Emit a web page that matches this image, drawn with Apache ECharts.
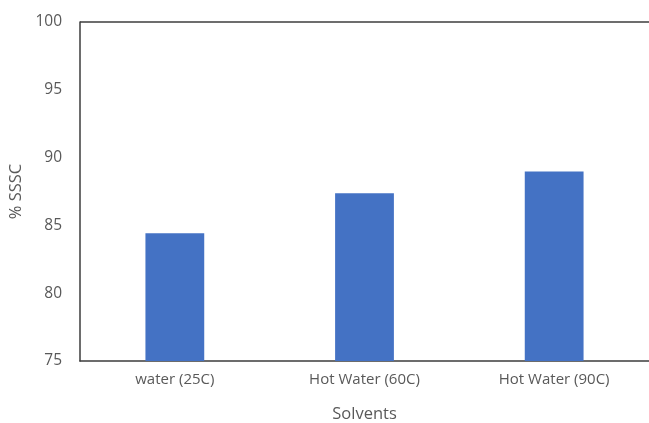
<!DOCTYPE html>
<html>
<head>
<meta charset="utf-8">
<style>
  html, body { margin: 0; padding: 0; background: #fff; overflow: hidden; }
  #chart { width: 649px; height: 423px; }
</style>
<script src="https://cdn.jsdelivr.net/npm/echarts@6/dist/echarts.min.js"></script>
</head>
<body>
<div id="chart"></div>
<script>
// Solvent extraction results (% SSSC)
const categories = ['water (25C)', 'Hot Water (60C)', 'Hot Water (90C)'];
const sssc = [84.42, 87.37, 88.98];
const yTicks = [75, 80, 85, 90, 95, 100];

const GRID = { left: 80, right: 0, top: 22, bottom: 62 };
const AXIS_COLOR = '#3d3d3d';
const TEXT_COLOR = '#595959';
const FONT = '"Open Sans", "Noto Sans", sans-serif';

const chart = echarts.init(document.getElementById('chart'), null, { renderer: 'canvas' });

chart.setOption({
  animation: false,
  backgroundColor: '#ffffff',
  grid: Object.assign({ outerBoundsMode: 'none', containLabel: false }, GRID),
  xAxis: {
    type: 'category',
    data: categories,
    name: 'Solvents',
    nameLocation: 'middle',
    nameGap: 45,
    nameTextStyle: { color: TEXT_COLOR, fontFamily: FONT, fontSize: 16.5 },
    axisLine: { show: true, lineStyle: { color: AXIS_COLOR, width: 1.5 } },
    axisTick: { show: false },
    axisLabel: { color: TEXT_COLOR, fontFamily: FONT, fontSize: 15, margin: 11 }
  },
  yAxis: {
    type: 'value',
    min: yTicks[0],
    max: yTicks[yTicks.length - 1],
    interval: yTicks[1] - yTicks[0],
    name: '% SSSC',
    nameLocation: 'middle',
    nameGap: 51,
    nameRotate: 90,
    nameTextStyle: { color: TEXT_COLOR, fontFamily: FONT, fontSize: 16.5 },
    axisLine: { show: true, lineStyle: { color: AXIS_COLOR, width: 1.5 } },
    axisTick: { show: false },
    splitLine: { show: false },
    axisLabel: { color: TEXT_COLOR, fontFamily: FONT, fontSize: 15.5, margin: 18 }
  },
  series: [{
    type: 'bar',
    data: sssc,
    barCategoryGap: '69%',
    itemStyle: { color: '#4472C4' }
  }],
  graphic: [
    // top border of the plot frame
    {
      type: 'line',
      shape: { x1: GRID.left, y1: GRID.top, x2: 649, y2: GRID.top },
      style: { stroke: AXIS_COLOR, lineWidth: 1.5 },
      z: 10
    }
  ]
});
</script>
</body>
</html>
